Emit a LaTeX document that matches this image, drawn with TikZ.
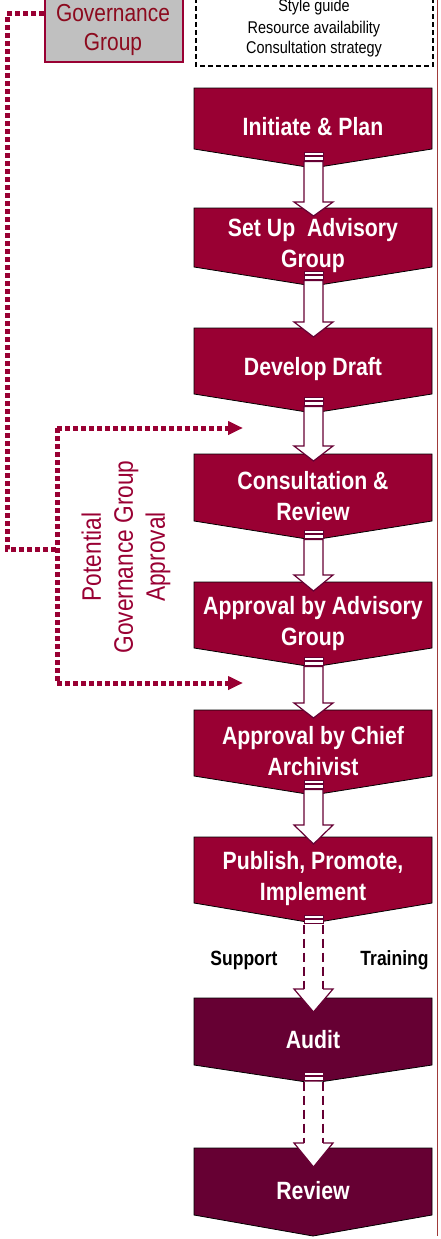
\documentclass[tikz,border=0pt]{standalone}
\usepackage{fontspec}
\setmainfont{Liberation Sans}
\newfontfamily\nar{Liberation Sans}[FakeStretch=0.85]
\usetikzlibrary{arrows.meta}
\definecolor{wine}{HTML}{990033}
\definecolor{darkwine}{HTML}{660033}
\definecolor{govgrey}{HTML}{C0C0C0}
\definecolor{govtext}{HTML}{8C0A1E}
\definecolor{rulecol}{HTML}{A03A3A}
\tikzset{
  stagetext/.style={text=white, align=center, font=\nar\bfseries\fontsize{25}{31}\selectfont, inner sep=0pt},
  stripe/.style={fill=white, draw=darkwine, line width=0.9pt},
  arrowbody/.style={fill=white, draw=darkwine, line width=1.2pt, line join=miter},
  arrowline/.style={draw=darkwine, line width=1.2pt},
  dotline/.style={draw=wine, line width=5pt, dash pattern=on 5pt off 3pt, line cap=butt},
  dottip/.style={-{Triangle[length=15pt,width=13pt]}},
}
\newcommand\stagebox[6]{%
  \filldraw[fill=#5, draw=black, line width=0.8pt] (194,#2) -- (432,#2) -- (432,#3) -- (313,#4) -- (194,#3) -- cycle;
  \node[stagetext] (#1) at (313,{(#2+#4)/2-1}) {#6};
}
\newcommand\flowarrow[3]{%
  \filldraw[stripe] (304,#1) rectangle (323,#1+3);
  \filldraw[stripe] (304,#1+4.5) rectangle (323,#1+8);
  \filldraw[arrowbody] (304,#1+9.5) -- (304,#2) -- (294,#2) -- (313.5,#3) -- (333,#2) -- (323,#2) -- (323,#1+9.5) -- cycle;
}
\newcommand\dashedarrow[3]{%
  \filldraw[stripe] (304,#1) rectangle (323,#1+3);
  \filldraw[stripe] (304,#1+4.5) rectangle (323,#1+8);
  \fill[white] (304,#1+9.5) -- (304,#2) -- (294,#2) -- (313.5,#3) -- (333,#2) -- (323,#2) -- (323,#1+9.5) -- cycle;
  \draw[arrowline, dash pattern=on 9pt off 5pt] (304,#1+9.5) -- (304,#2);
  \draw[arrowline, dash pattern=on 9pt off 5pt] (323,#1+9.5) -- (323,#2);
  \draw[arrowline, line join=miter] (304,#2) -- (294,#2) -- (313.5,#3) -- (333,#2) -- (323,#2);
}
\begin{document}
\begin{tikzpicture}[x=1pt,y=-1pt]
\useasboundingbox (0,0) rectangle (441,1239);
% right rule
\draw[rulecol, line width=1pt] (437,0) -- (437,1236);
% dashed info box
\draw[black, line width=1.2pt, dash pattern=on 5pt off 3pt] (196,-10) -- (196,66) -- (433,66) -- (433,-10);
\node[font=\nar\fontsize{17}{21}\selectfont, align=center, inner sep=0pt, anchor=base] (info) at (314,54) {Style guide\\Resource availability\\Consultation strategy};
% governance box
\node[fill=govgrey, draw=wine, line width=1.5pt, minimum width=138pt, minimum height=73pt, anchor=south west, inner sep=0pt] (govbox) at (44,63) {};
\node[text=govtext, font=\nar\fontsize{24.6}{29}\selectfont, align=center, inner sep=0pt] (gov) at (113,30) {Governance\\Group};
% stages
\stagebox{s1}{88}{149}{168}{wine}{Initiate \& Plan}
\stagebox{s2}{208}{267}{286}{wine}{Set Up~ Advisory\\Group}
\stagebox{s3}{328}{394}{413}{wine}{Develop Draft}
\stagebox{s4}{454}{521}{540}{wine}{Consultation \&\\Review}
\stagebox{s5}{582}{648}{667}{wine}{Approval by Advisory\\Group}
\stagebox{s6}{710}{776}{795}{wine}{Approval by Chief\\Archivist}
\stagebox{s7}{837}{903}{923}{wine}{Publish, Promote,\\Implement}
\stagebox{s8}{998}{1065}{1083}{darkwine}{Audit}
\stagebox{s9}{1148}{1215}{1236}{darkwine}{Review}
% flow arrows
\flowarrow{152}{202}{216}
\flowarrow{271}{322}{337}
\flowarrow{397}{446}{461}
\flowarrow{530}{575}{591}
\flowarrow{657}{703}{718}
\flowarrow{780}{825}{844}
\dashedarrow{915}{989}{1012}
\dashedarrow{1072}{1143}{1167}
\node[font=\nar\bfseries\fontsize{20.6}{24}\selectfont, inner sep=0pt] (support) at (244,960) {Support};
\node[font=\nar\bfseries\fontsize{20.6}{24}\selectfont, inner sep=0pt] (training) at (394.5,960) {Training};
% governance connectors
\coordinate (j1) at (7,14);
\coordinate (j2) at (7,549);
\coordinate (j3) at (57,549);
\coordinate (v1) at (57,428);
\coordinate (v2) at (57,683);
\coordinate (t1) at (243,428);
\coordinate (t2) at (243,683);
\draw[dotline] (govbox.west |- j1) -- (j1) -- (j2) -- (j3);
\draw[dotline] (v1) -- (v2);
\draw[dotline, dottip] (v1) -- (t1);
\draw[dotline, dottip] (v2) -- (t2);
\node[text=wine, rotate=90, align=center, font=\nar\fontsize{26.7}{32}\selectfont, inner sep=0pt] (pot) at (126,557) {Potential\\Governance Group\\Approval};
\end{tikzpicture}
\end{document}
